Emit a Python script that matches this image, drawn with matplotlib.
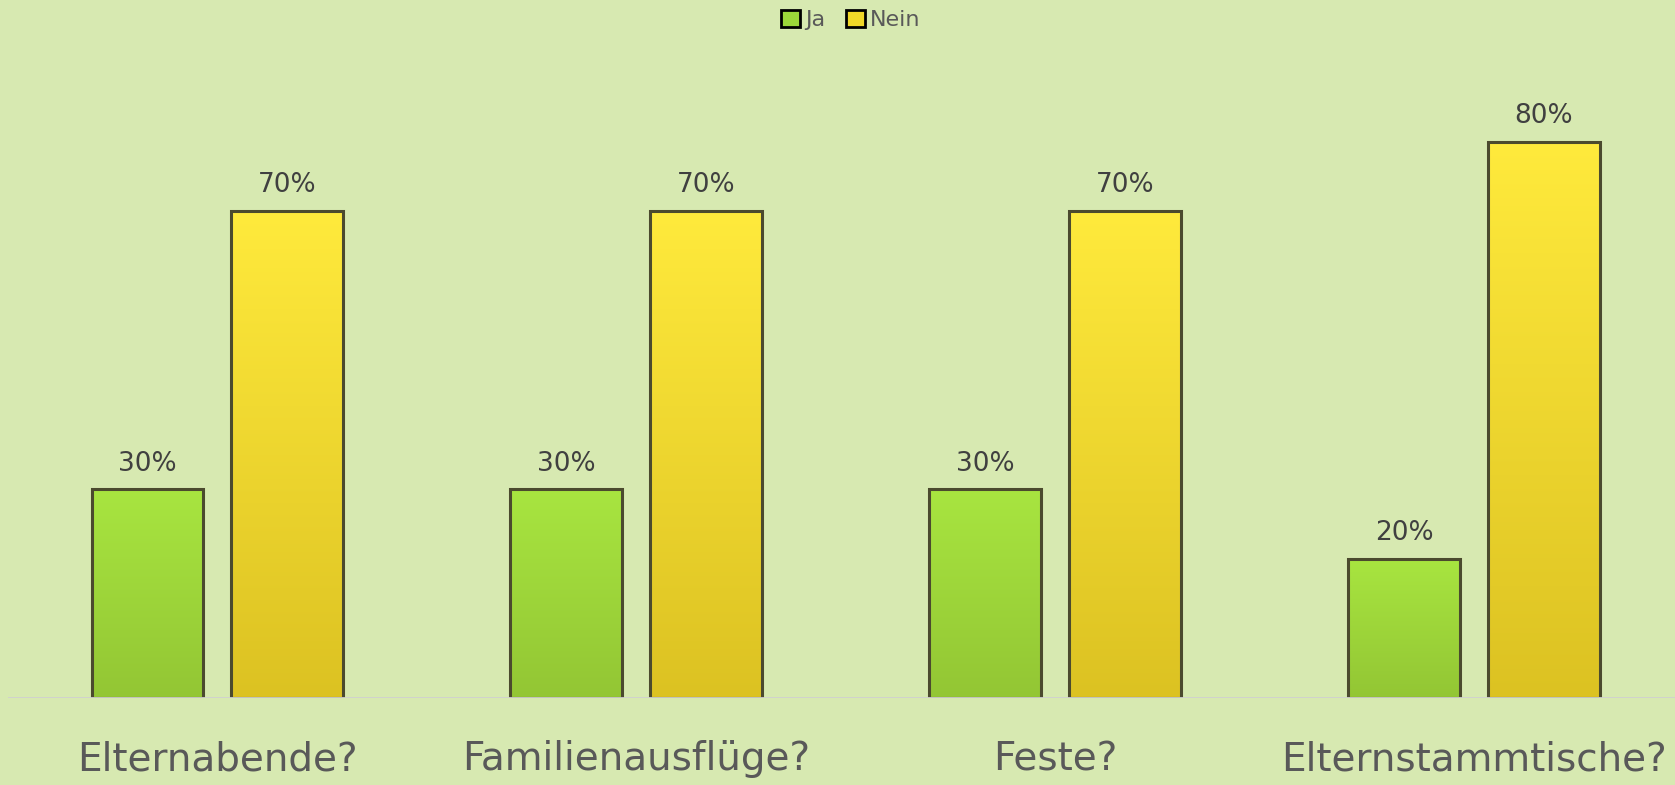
import numpy as np
import matplotlib
matplotlib.use("Agg")
import matplotlib.pyplot as plt
from matplotlib.patches import Patch
from matplotlib.colors import LinearSegmentedColormap

categories = ["Elternabende?", "Familienausflüge?", "Feste?", "Elternstammtische?"]
series_names = ["Ja", "Nein"]
ja_values = [30, 30, 30, 20]
nein_values = [70, 70, 70, 80]

BG = "#D7E9B1"
TEXT = "#595959"
EDGE = "#4B4A2E"
GREEN_TOP, GREEN_BOT = "#A8E540", "#93C634"
YEL_TOP, YEL_BOT = "#FFEA3C", "#DCC222"

W, H = 1675, 785
fig = plt.figure(figsize=(W / 100, H / 100), dpi=100, facecolor=BG)
ax_left = 8 / W
ax_bottom = 1 - 698 / H
ax_height = 695.4 / H
ax = fig.add_axes([ax_left, ax_bottom, 1 - ax_left, ax_height])
ax.set_facecolor(BG)

x = np.arange(len(categories))
width = 0.267
offset = 0.167

def grad_fill(bars, ctop, cbot):
    cmap = LinearSegmentedColormap.from_list("g", [cbot, ctop])
    grad = np.linspace(0, 1, 256).reshape(-1, 1)
    for b in bars:
        x0, y0 = b.get_x(), b.get_y()
        w, h = b.get_width(), b.get_height()
        im = ax.imshow(grad, cmap=cmap, extent=(x0, x0 + w, y0, y0 + h),
                       origin="lower", aspect="auto", zorder=2)
        im.set_clip_path(b)

bars_ja = ax.bar(x - offset, ja_values, width, color=GREEN_TOP, edgecolor=EDGE,
                 linewidth=2.2, zorder=3)
bars_nein = ax.bar(x + offset, nein_values, width, color=YEL_TOP, edgecolor=EDGE,
                   linewidth=2.2, zorder=3)
for b in list(bars_ja) + list(bars_nein):
    b.set_facecolor("none")
grad_fill(bars_ja, GREEN_TOP, GREEN_BOT)
grad_fill(bars_nein, YEL_TOP, YEL_BOT)

for bars, vals in ((bars_ja, ja_values), (bars_nein, nein_values)):
    for b, v in zip(bars, vals):
        ax.annotate(f"{v}%", (b.get_x() + b.get_width() / 2, v),
                    xytext=(0, 13.5), textcoords="offset points",
                    ha="center", va="baseline", fontsize=19, color="#404040")

ax.set_xlim(-0.5, 3.48)
ax.set_ylim(0, 100)
ax.axhline(0, color="#D0D0D0", lw=2, zorder=4)
for s in ax.spines.values():
    s.set_visible(False)
ax.set_yticks([])
ax.set_xticks(x)
ax.set_xticklabels(categories, fontsize=28, color=TEXT)
ax.tick_params(axis="x", length=0, pad=30.5)

handles = [Patch(facecolor="#9CD83A", edgecolor="black", linewidth=2),
           Patch(facecolor="#F0D828", edgecolor="black", linewidth=2)]
fig.legend(handles, series_names, loc="center", bbox_to_anchor=(851 / W, 1 - 20 / H),
           ncol=2, frameon=False, fontsize=16, labelcolor=TEXT,
           handlelength=0.85, handleheight=0.85, handletextpad=0.25,
           columnspacing=0.9, borderpad=0)

fig.savefig("out.png", dpi=100, facecolor=BG)
